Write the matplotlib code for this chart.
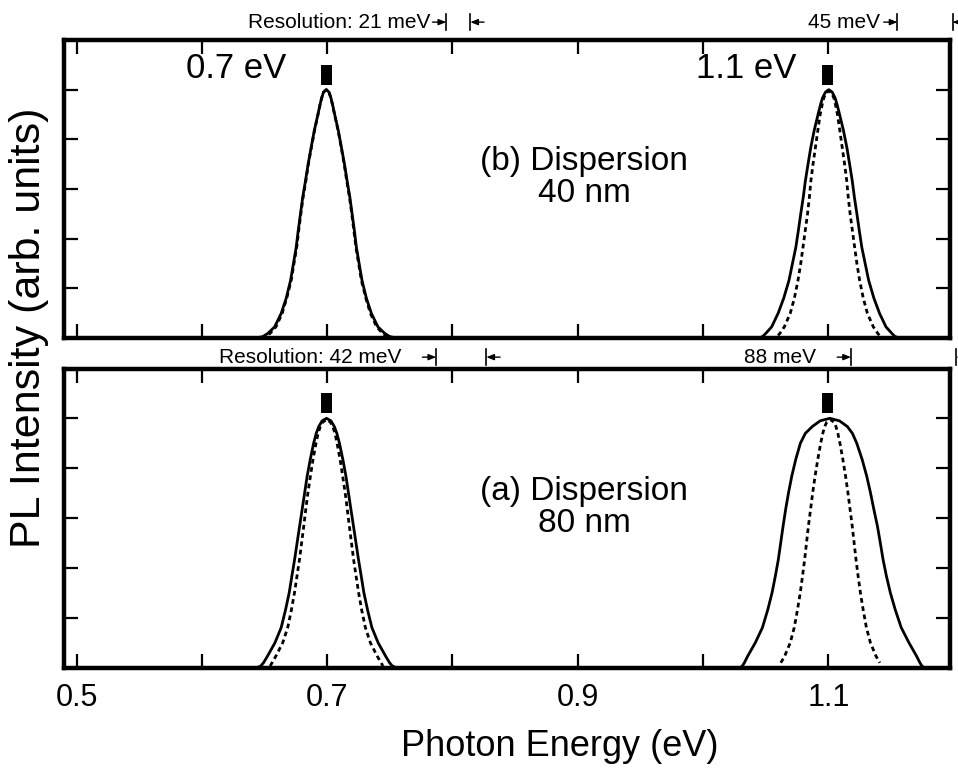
import matplotlib
matplotlib.use('Agg')
import matplotlib.pyplot as plt
import matplotlib.transforms as mtransforms

plt.rcParams['font.family'] = ['Liberation Sans', 'DejaVu Sans']

# ---------------- data ----------------
x_ticks = [0.5, 0.6, 0.7, 0.8, 0.9, 1.0, 1.1]
x_tick_labels = ['0.5', '', '0.7', '', '0.9', '', '1.1']
y_ticks = [0.2, 0.4, 0.6, 0.8, 1.0]

# heights (fraction of peak) at which the half-widths (eV) of each peak were read
levels = [0.0, 0.006, 0.019, 0.045, 0.099, 0.16, 0.232, 0.30, 0.366, 0.433,
          0.50, 0.567, 0.633, 0.70, 0.767, 0.835, 0.90, 0.94, 0.967, 0.99]

# ---- panel (b): Dispersion 40 nm ----
b07_center = 0.6993
b07_solid_hw = [0.0555, 0.0505, 0.0465, 0.0412, 0.0360, 0.0320, 0.0285, 0.0262, 0.0240, 0.0224,
                0.0206, 0.0188, 0.0166, 0.0145, 0.0121, 0.0096, 0.0067, 0.0050, 0.0037, 0.0022]
b07_dash_hw = [0.0518, 0.0482, 0.0448, 0.0402, 0.0352, 0.0316, 0.0280, 0.0258, 0.0236, 0.0220,
               0.0203, 0.0185, 0.0163, 0.0143, 0.0119, 0.0094, 0.0066, 0.0049, 0.0036, 0.0021]
b07_peak = 1.0

b11_center = 1.1003
b11_solid_hw = [0.0558, 0.0528, 0.0502, 0.0456, 0.0405, 0.0360, 0.0318, 0.0290, 0.0263, 0.0243,
                0.0224, 0.0204, 0.0187, 0.0166, 0.0144, 0.0117, 0.0086, 0.0066, 0.0050, 0.0027]
b11_dash_levels = [0.010, 0.019, 0.045, 0.099, 0.16, 0.232, 0.30, 0.366, 0.433,
                   0.50, 0.567, 0.633, 0.70, 0.767, 0.835, 0.90, 0.94, 0.967, 0.985]
b11_dash_hw = [0.0405, 0.0390, 0.0355, 0.0308, 0.0275, 0.0246, 0.0224, 0.0206, 0.0188,
               0.0170, 0.0155, 0.0143, 0.0126, 0.0107, 0.0088, 0.0069, 0.0053, 0.0040, 0.0024]
b11_solid_peak = 1.0
b11_dash_peak = 0.995

# ---- panel (a): Dispersion 80 nm ----
a07_center = 0.6995
a07_solid_hw = [0.0552, 0.0525, 0.0503, 0.0472, 0.0412, 0.0362, 0.0327, 0.0298, 0.0277, 0.0255,
                0.0235, 0.0215, 0.0195, 0.0175, 0.0155, 0.0130, 0.0103, 0.0082, 0.0062, 0.0035]
a07_dash_levels = [0.006, 0.019, 0.045, 0.099, 0.16, 0.232, 0.30, 0.366, 0.433,
                   0.50, 0.567, 0.633, 0.70, 0.767, 0.835, 0.90, 0.94, 0.967, 0.985]
a07_dash_hw = [0.0450, 0.0435, 0.0405, 0.0350, 0.0310, 0.0280, 0.0256, 0.0236, 0.0216,
               0.0199, 0.0182, 0.0166, 0.0149, 0.0129, 0.0108, 0.0084, 0.0067, 0.0050, 0.0030]
a07_solid_peak = 1.0
a07_dash_peak = 0.995

a11_center = 1.1011
a11_solid_hw_left = [0.0714, 0.0698, 0.0682, 0.0656, 0.0595, 0.0538, 0.0495, 0.0461, 0.0435, 0.0411,
                     0.0392, 0.0373, 0.0353, 0.0330, 0.0304, 0.0272, 0.0235, 0.0195, 0.0140, 0.0077]
a11_solid_hw_right = [0.0750, 0.0735, 0.0719, 0.0693, 0.0632, 0.0570, 0.0522, 0.0483, 0.0452, 0.0425,
                      0.0403, 0.0380, 0.0352, 0.0325, 0.0295, 0.0258, 0.0215, 0.0180, 0.0140, 0.0077]
a11_solid_peak = 1.0
a11_dash_center = 1.1015
a11_dash_levels = [0.019, 0.045, 0.099, 0.16, 0.232, 0.30, 0.366, 0.433,
                   0.50, 0.567, 0.633, 0.70, 0.767, 0.835, 0.90, 0.94, 0.967, 0.985]
a11_dash_hw = [0.0395, 0.0365, 0.0320, 0.0288, 0.0262, 0.0240, 0.0222, 0.0205,
               0.0190, 0.0175, 0.0158, 0.0141, 0.0122, 0.0100, 0.0077, 0.0060, 0.0045, 0.0028]
a11_dash_peak = 0.995

# excitation marker bars above peaks
mark_x = [0.6995, 1.0995]
mark_bottom = 1.02
mark_height = 0.08
mark_width = 0.009

# resolution annotations
res_text_b = ['Resolution: 21 meV', '45 meV']
res_text_x_b = [0.7822, 1.1415]
res_bars_b = [(0.7950, 0.8142), (1.1551, 1.1990)]
res_text_a = ['Resolution: 42 meV', '88 meV']
res_text_x_a = [0.7590, 1.0904]
res_bars_a = [(0.7870, 0.8270), (1.1180, 1.2020)]

peak_labels = ['0.7 eV', '1.1 eV']
peak_label_x = [0.6273, 1.0345]
panel_b_text = '(b) Dispersion\n40 nm'
panel_a_text = '(a) Dispersion\n80 nm'


def curve(center, lev, hw_left, peak, hw_right=None):
    if hw_right is None:
        hw_right = hw_left
    xs = [center - h for h in hw_left] + [center] + [center + h for h in reversed(hw_right)]
    ys = list(lev) + [peak] + list(reversed(lev))
    return xs, ys


# ---------------- figure ----------------
fig = plt.figure(figsize=(9.58, 7.72), dpi=100)
ax_b = fig.add_axes([64 / 958, 1 - 338 / 772, 886 / 958, 298 / 772])
ax_a = fig.add_axes([64 / 958, 1 - 667.5 / 772, 886 / 958, 299 / 772])

solid_kw = dict(color='black', lw=2.0, solid_capstyle='round', solid_joinstyle='round')
dash_kw = dict(color='black', lw=2.0, linestyle=(0, (1.7, 1.3)))

for ax in (ax_a, ax_b):
    ax.set_xlim(0.49, 1.197)
    ax.set_ylim(0, 1.2)
    ax.set_xticks(x_ticks)
    ax.set_yticks(y_ticks)
    ax.set_yticklabels([])
    ax.tick_params(axis='both', which='major', direction='in', length=10, width=1.6,
                   top=True, right=True, bottom=True, left=True)
    for s in ax.spines.values():
        s.set_linewidth(3.2)
        s.set_zorder(5)
    ax.bar(mark_x, [mark_height] * len(mark_x), bottom=mark_bottom, width=mark_width,
           color='black', clip_on=False)

ax_b.set_xticklabels([])
ax_a.set_xticklabels(x_tick_labels, fontsize=22)
ax_a.tick_params(axis='x', pad=11)

# panel (b) curves
ax_b.plot(*curve(b07_center, levels, b07_solid_hw, b07_peak), **solid_kw)
ax_b.plot(*curve(b07_center, levels, b07_dash_hw, b07_peak), **dash_kw)
ax_b.plot(*curve(b11_center, levels, b11_solid_hw, b11_solid_peak), **solid_kw)
ax_b.plot(*curve(b11_center, b11_dash_levels, b11_dash_hw, b11_dash_peak), **dash_kw)

# panel (a) curves
ax_a.plot(*curve(a07_center, levels, a07_solid_hw, a07_solid_peak), **solid_kw)
ax_a.plot(*curve(a07_center, a07_dash_levels, a07_dash_hw, a07_dash_peak), **dash_kw)
ax_a.plot(*curve(a11_center, levels, a11_solid_hw_left, a11_solid_peak, a11_solid_hw_right), **solid_kw)
ax_a.plot(*curve(a11_dash_center, a11_dash_levels, a11_dash_hw, a11_dash_peak), **dash_kw)

# texts inside panels
for lbl, xx in zip(peak_labels, peak_label_x):
    ax_b.text(xx, 1.086, lbl, fontsize=25, ha='center', va='center')
ax_b.text(0.905, 0.645, panel_b_text, fontsize=24, ha='center', va='center', linespacing=1.05)
ax_a.text(0.905, 0.643, panel_a_text, fontsize=24, ha='center', va='center', linespacing=1.05)


def resolution(ax, texts, text_x, bars, yf):
    tr = mtransforms.blended_transform_factory(ax.transData, ax.transAxes)
    for t, tx, (x1, x2) in zip(texts, text_x, bars):
        ax.text(tx, yf, t, fontsize=15, ha='right', va='center', transform=tr, clip_on=False)
        for xb, sgn in ((x1, -1), (x2, 1)):
            ax.plot([xb, xb], [yf - 0.027, yf + 0.027], color='black', lw=1.2,
                    transform=tr, clip_on=False)
            ax.annotate('', xy=(xb, yf), xytext=(xb + sgn * 0.011, yf),
                        xycoords=tr, textcoords=tr, annotation_clip=False,
                        arrowprops=dict(arrowstyle='-|>,head_length=0.45,head_width=0.18',
                                        color='black', lw=1.0, shrinkA=0, shrinkB=0))


resolution(ax_b, res_text_b, res_text_x_b, res_bars_b, 1.060)
resolution(ax_a, res_text_a, res_text_x_a, res_bars_a, 1.038)

fig.text(560 / 958, 1 - 746 / 772, 'Photon Energy (eV)', fontsize=26, ha='center', va='center')
fig.text(29 / 958, 1 - 328 / 772, 'PL Intensity (arb. units)', fontsize=31, ha='center',
         va='center', rotation=90)

fig.savefig('out.png', dpi=100)
